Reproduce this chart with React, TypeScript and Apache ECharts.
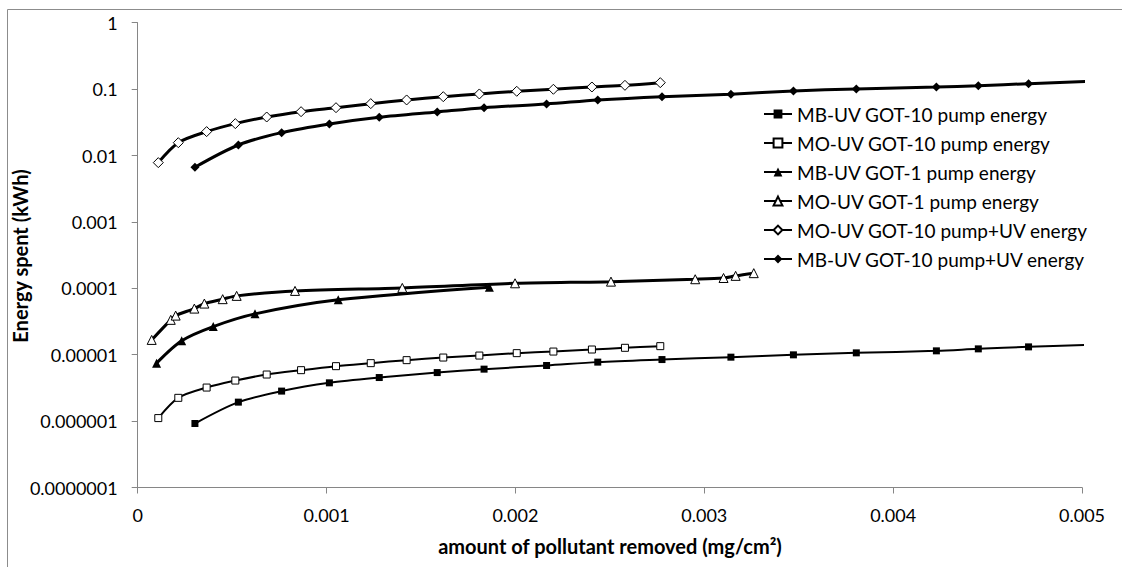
import React, { useEffect, useRef } from "react";
import * as echarts from "echarts";

const xTickLabels = ["0", "0.001", "0.002", "0.003", "0.004", "0.005"];
const yTickLabels = ["0.0000001", "0.000001", "0.00001", "0.0001", "0.001", "0.01", "0.1", "1"];

const seriesNames = [
  "MB-UV GOT-10 pump energy",
  "MO-UV GOT-10 pump energy",
  "MB-UV GOT-1 pump energy",
  "MO-UV GOT-1 pump energy",
  "MO-UV GOT-10 pump+UV energy",
  "MB-UV GOT-10 pump+UV energy",
];

// MB-UV GOT-10 (filled square / filled diamond share x)
const mb10X = [0.000303, 0.000533, 0.000762, 0.001015, 0.001279, 0.001586, 0.001834, 0.002165, 0.002436, 0.002776, 0.003141, 0.003472, 0.003805, 0.004229, 0.004451, 0.004717, 0.00502];
const mb10Pump = [9.2e-7, 1.93e-6, 2.83e-6, 3.77e-6, 4.53e-6, 5.38e-6, 6.06e-6, 6.87e-6, 7.73e-6, 8.45e-6, 9.18e-6, 9.95e-6, 1.066e-5, 1.143e-5, 1.224e-5, 1.312e-5, 1.4e-5];
const mb10PumpUV = [0.00666, 0.0144, 0.0221, 0.0299, 0.0377, 0.0453, 0.0525, 0.0597, 0.0686, 0.0769, 0.0836, 0.0937, 0.1005, 0.1076, 0.1126, 0.1208, 0.13];

// MO-UV GOT-10 (open square / open diamond share x)
const mo10X = [0.000109, 0.000215, 0.000365, 0.000517, 0.000683, 0.000865, 0.00105, 0.001234, 0.001424, 0.001618, 0.001809, 0.002007, 0.002201, 0.002405, 0.00258, 0.002767];
const mo10Pump = [1.11e-6, 2.24e-6, 3.2e-6, 4.08e-6, 5.03e-6, 5.85e-6, 6.72e-6, 7.46e-6, 8.28e-6, 9.06e-6, 9.71e-6, 1.055e-5, 1.115e-5, 1.197e-5, 1.27e-5, 1.345e-5];
const mo10PumpUV = [0.00781, 0.0156, 0.0229, 0.0302, 0.038, 0.0457, 0.0525, 0.0604, 0.0686, 0.0769, 0.0845, 0.0927, 0.0994, 0.1076, 0.114, 0.125];

// MB-UV GOT-1 (filled triangle)
const mb1X = [0.0001, 0.000233, 0.0004, 0.000621, 0.001062, 0.001862];
const mb1Pump = [7.46e-6, 1.62e-5, 2.65e-5, 4.12e-5, 6.7e-5, 1.04e-4];

// MO-UV GOT-1 (open triangle)
const mo1X = [0.000074, 0.000175, 0.000201, 0.0003, 0.000353, 0.00045, 0.000524, 0.000833, 0.001401, 0.001998, 0.002506, 0.002952, 0.003102, 0.003166, 0.003262];
const mo1Pump = [1.67e-5, 3.35e-5, 3.88e-5, 4.95e-5, 5.89e-5, 6.86e-5, 7.69e-5, 9.14e-5, 1.014e-4, 1.19e-4, 1.26e-4, 1.37e-4, 1.43e-4, 1.54e-4, 1.69e-4];

const pairs = (xs: number[], ys: number[]) => xs.map((x, i) => [x, ys[i]]);

const FONT = "Lato, 'Open Sans', sans-serif";

export default function App() {
  const ref = useRef<HTMLDivElement>(null);
  useEffect(() => {
    if (!ref.current) return;
    const chart = echarts.init(ref.current, undefined, { renderer: "svg" });
    const mk = (
      name: string,
      data: number[][],
      symbol: string,
      filled: boolean,
      size: number,
      lw: number
    ) => ({
      name,
      type: "line",
      data,
      symbol,
      symbolSize: size,
      smooth: 0.3,
      clip: true,
      lineStyle: { color: "#000", width: lw },
      itemStyle: {
        color: filled ? "#000" : "#fff",
        borderColor: "#000",
        borderWidth: filled ? 0 : 1,
      },
      emphasis: { disabled: true },
    });
    chart.setOption({
      animation: false,
      textStyle: { fontFamily: FONT },
      grid: { left: 137.7, right: 40, top: 22.7, bottom: 79.5, containLabel: false },
      xAxis: {
        type: "value",
        min: 0,
        max: 0.005,
        interval: 0.001,
        axisLine: { lineStyle: { color: "#868686", width: 1 } },
        axisTick: { show: true, length: 6, lineStyle: { color: "#868686" } },
        splitLine: { show: false },
        axisLabel: {
          color: "#000",
          fontSize: 18,
          fontFamily: FONT,
          margin: 18,
          formatter: (v: number) => xTickLabels[Math.round(v / 0.001)],
        },
      },
      yAxis: {
        type: "log",
        logBase: 10,
        min: 1e-7,
        max: 1,
        interval: 1,
        axisLine: { show: true, lineStyle: { color: "#868686", width: 1 } },
        axisTick: { show: true, length: 6, lineStyle: { color: "#868686" } },
        splitLine: { show: false },
        axisLabel: {
          color: "#000",
          fontSize: 18,
          fontFamily: FONT,
          margin: 20,
          formatter: (v: number) => yTickLabels[Math.round(Math.log10(v)) + 7],
        },
      },
      legend: {
        orient: "vertical",
        left: 758,
        top: 99,
        itemWidth: 28,
        itemHeight: 11,
        itemGap: 9,
        selectedMode: false,
        textStyle: { color: "#000", fontSize: 19, lineHeight: 20, fontFamily: FONT },
        data: seriesNames,
      },
      graphic: [
        {
          type: "rect",
          silent: true,
          shape: { x: 7.5, y: 9.5, width: 1300, height: 800 },
          style: { fill: "none", stroke: "#8c8c8c", lineWidth: 1 },
        },
        {
          type: "text",
          x: 610,
          y: 546,
          style: {
            text: "amount of pollutant removed (mg/cm²)",
            font: `bold 20px ${FONT}`,
            fill: "#000",
            textAlign: "center",
            textVerticalAlign: "middle",
          },
        },
        {
          type: "text",
          x: 20,
          y: 256,
          rotation: Math.PI / 2,
          style: {
            text: "Energy spent (kWh)",
            font: `bold 20px ${FONT}`,
            fill: "#000",
            textAlign: "center",
            textVerticalAlign: "middle",
          },
        },
      ],
      series: [
        mk(seriesNames[0], pairs(mb10X, mb10Pump), "rect", true, 7, 2),
        mk(seriesNames[1], pairs(mo10X, mo10Pump), "rect", false, 7, 2),
        mk(seriesNames[2], pairs(mb1X, mb1Pump), "triangle", true, 9, 3),
        mk(seriesNames[3], pairs(mo1X, mo1Pump), "triangle", false, 9, 3),
        mk(seriesNames[4], pairs(mo10X, mo10PumpUV), "diamond", false, 10, 3),
        mk(seriesNames[5], pairs(mb10X, mb10PumpUV), "diamond", true, 9, 3),
      ],
    });
    return () => chart.dispose();
  }, []);
  return (
    <div
      ref={ref}
      style={{ position: "absolute", left: 0, top: 0, width: 1122, height: 567, background: "#fff" }}
    />
  );
}
